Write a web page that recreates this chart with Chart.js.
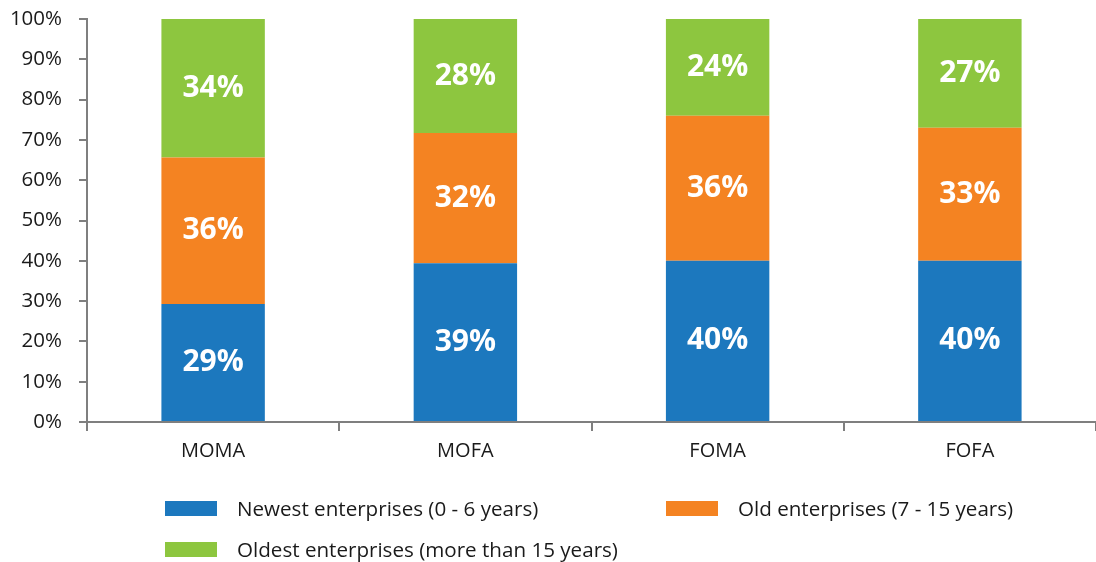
<!DOCTYPE html>
<html>
<head>
<meta charset="utf-8">
<script src="https://cdn.jsdelivr.net/npm/chart.js@4/dist/chart.umd.min.js"></script>
<style>
  html, body { margin: 0; padding: 0; background: #fff; }
  #wrap { position: relative; width: 1096px; height: 562px; }
  #legend { position: absolute; left: 0; top: 0; width: 1096px; height: 562px; pointer-events: none;
            font-family: "Open Sans", sans-serif; font-size: 20.6px; color: #1a1a1a; }
  .item { position: absolute; display: flex; align-items: center; height: 24px; }
  .box { width: 52px; height: 15px; margin-right: 20px; }
</style>
</head>
<body>
<div id="wrap">
  <canvas id="myChart" width="1096" height="562"></canvas>
  <div id="legend"></div>
</div>
<script>
// 그룹 이름
const categories = ['MOMA', 'MOFA', 'FOMA', 'FOFA'];

// 기업 연령대별 비율 (%)
const newestValues = [29, 39, 40, 40];
const oldValues = [36, 32, 36, 33];
const oldestValues = [34, 28, 24, 27];

const seriesNames = [
    'Newest enterprises (0 - 6 years)',
    'Old enterprises (7 - 15 years)',
    'Oldest enterprises (more than 15 years)',
];
const seriesColors = ['#1c78be', '#f48322', '#8dc63f'];

const rawSeries = [newestValues, oldValues, oldestValues];

// 100% 누적 막대: 그룹별 합계로 나누어 비율로 변환
const totals = categories.map((_, i) => rawSeries.reduce((s, arr) => s + arr[i], 0));

const datasets = rawSeries.map((arr, k) => ({
    label: seriesNames[k],
    data: arr.map((v, i) => v / totals[i] * 100),
    raw: arr,
    backgroundColor: seriesColors[k],
    borderWidth: 0,
    categoryPercentage: 1.0,
    barPercentage: 0.41,
}));

// 막대 안에 값 표시
const barLabels = {
    id: 'barLabels',
    afterDatasetsDraw(chart) {
        const ctx = chart.ctx;
        ctx.save();
        ctx.fillStyle = '#ffffff';
        ctx.font = 'bold 30px "Open Sans", sans-serif';
        ctx.textAlign = 'center';
        ctx.textBaseline = 'middle';
        chart.data.datasets.forEach((ds, k) => {
            const meta = chart.getDatasetMeta(k);
            meta.data.forEach((bar, i) => {
                const yMid = (bar.y + bar.base) / 2;
                ctx.fillText(ds.raw[i] + '%', bar.x, yMid);
            });
        });
        ctx.restore();
    }
};

const axisColor = '#7f7f7f';
const textColor = '#1a1a1a';

const ctx = document.getElementById('myChart').getContext('2d');
const myChart = new Chart(ctx, {
    type: 'bar',
    data: { labels: categories, datasets: datasets },
    options: {
        responsive: false,
        animation: false,
        layout: { padding: { top: 19, right: 0, bottom: 90, left: 0 } },
        plugins: {
            legend: { display: false },
            tooltip: { enabled: false },
        },
        scales: {
            x: {
                stacked: true,
                grid: {
                    offset: true,
                    drawOnChartArea: false,
                    color: axisColor,
                    lineWidth: 2,
                    tickLength: 9,
                },
                border: { color: axisColor, width: 2 },
                ticks: {
                    color: textColor,
                    font: { family: '"Open Sans", sans-serif', size: 20 },
                    padding: 8,
                },
                afterFit(scale) { scale.height = 50; },
            },
            y: {
                stacked: true,
                min: 0,
                max: 100,
                grid: {
                    drawOnChartArea: false,
                    color: axisColor,
                    lineWidth: 2,
                    tickLength: 8,
                },
                border: { color: axisColor, width: 2 },
                ticks: {
                    stepSize: 10,
                    color: textColor,
                    font: { family: '"Open Sans", sans-serif', size: 20.5 },
                    padding: 17,
                    callback: v => v + '%',
                },
                afterFit(scale) {
                    scale.width = 87;
                    scale.paddingTop = 0;
                    scale.paddingBottom = 0;
                },
            },
        },
    },
    plugins: [barLabels],
});

// 범례 (2열 배치)
const legendPos = [
    { left: 165, top: 496 },
    { left: 666, top: 496 },
    { left: 165, top: 537 },
];
const legendEl = document.getElementById('legend');
seriesNames.forEach((name, k) => {
    const item = document.createElement('div');
    item.className = 'item';
    item.style.left = legendPos[k].left + 'px';
    item.style.top = legendPos[k].top + 'px';
    const box = document.createElement('span');
    box.className = 'box';
    box.style.background = seriesColors[k];
    const txt = document.createElement('span');
    txt.textContent = name;
    item.appendChild(box);
    item.appendChild(txt);
    legendEl.appendChild(item);
});
</script>
</body>
</html>
